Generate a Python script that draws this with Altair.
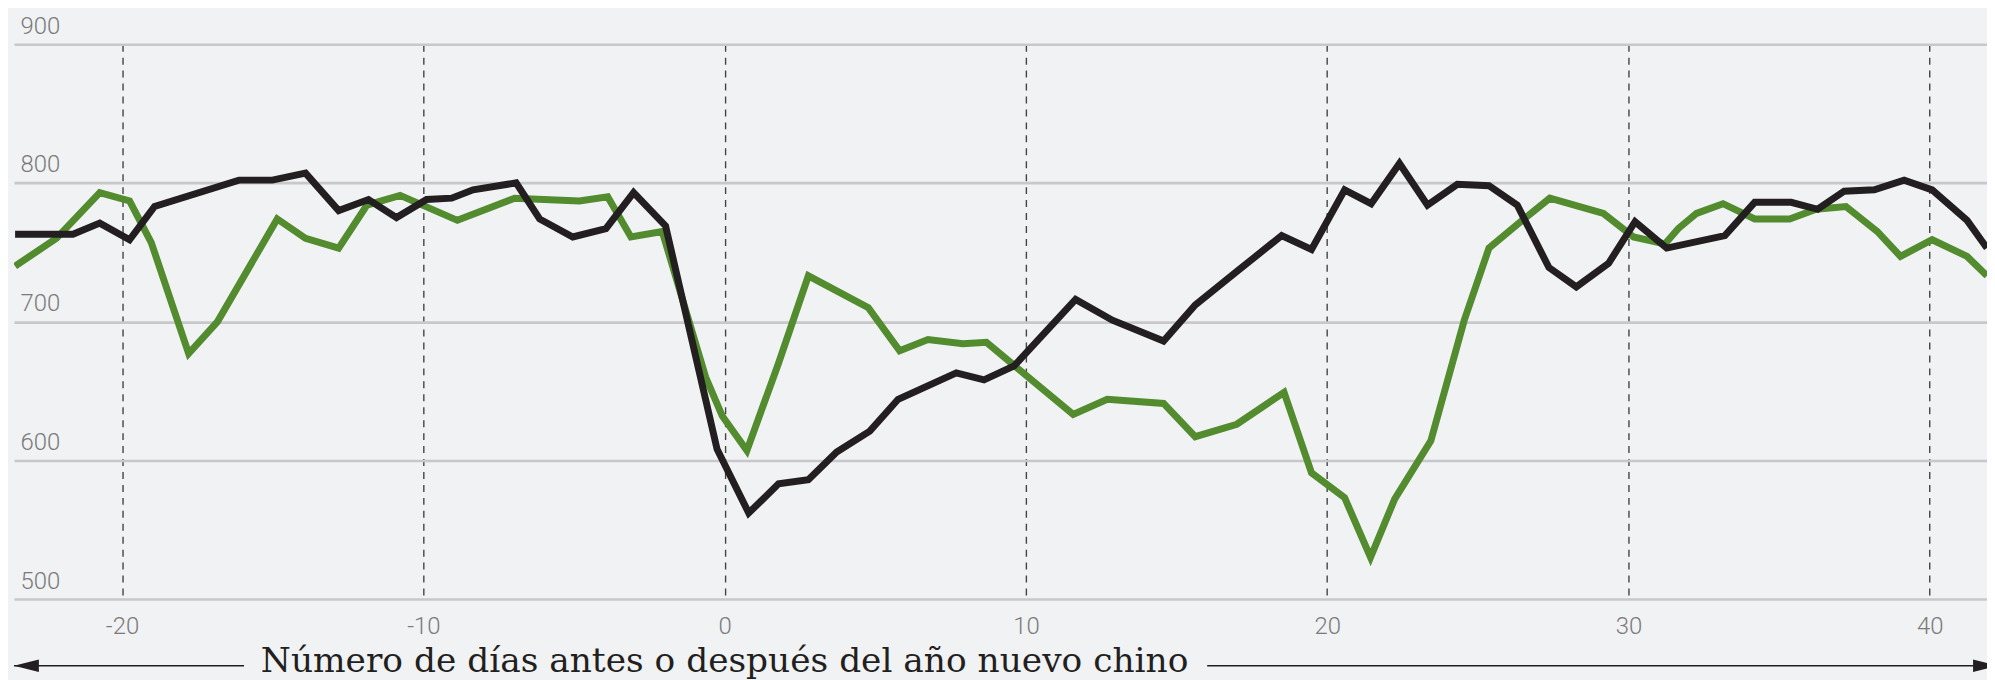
import altair as alt
import pandas as pd

# Días respecto al año nuevo chino (x) y valores (y)
black_x = [-23.55, -21.63, -20.74, -19.75, -18.92, -16.12, -15.01, -13.91, -12.81, -11.82,
           -10.89, -9.89, -9.06, -8.35, -6.92, -6.14, -5.04, -3.94, -3.02, -1.96,
           -0.25, 0.80, 1.79, 2.78, 3.72, 4.82, 5.76, 7.69, 8.61, 9.61,
           11.65, 12.87, 14.57, 15.62, 17.05, 18.49, 19.48, 20.58, 21.46, 22.40,
           23.33, 24.32, 25.37, 26.31, 27.36, 28.27, 29.34, 30.22, 31.27, 33.20,
           34.19, 35.40, 36.28, 37.16, 38.16, 39.15, 40.08, 41.24, 41.90]
black_y = [763, 763, 771, 759, 783, 802, 802, 807, 780, 788,
           775, 788, 789, 795, 800, 774, 761, 767, 793, 769,
           608, 562, 583, 586, 606, 621, 644, 663, 658, 668,
           716, 701, 686, 712, 737, 762, 752, 795, 785, 814,
           784, 799, 798, 784, 739, 725, 742, 772, 753, 762,
           786, 786, 781, 794, 795, 802, 795, 773, 753]

green_x = [-23.55, -22.18, -20.74, -19.75, -19.03, -17.79, -16.83, -14.85, -13.91, -12.81,
           -11.87, -10.77, -8.87, -6.97, -4.82, -3.88, -3.11, -2.07, -0.63, -0.08,
           0.74, 1.79, 2.78, 4.77, 5.81, 6.75, 7.91, 8.69, 11.57, 12.70,
           14.57, 15.62, 17.00, 18.57, 19.48, 20.58, 21.44, 22.24, 23.44, 24.55,
           25.37, 26.53, 27.39, 29.17, 30.17, 31.21, 31.65, 32.26, 33.14, 34.19,
           35.35, 36.23, 37.22, 38.26, 39.03, 40.08, 41.24, 41.90]
green_y = [740, 760, 793, 787, 757, 677, 700, 774, 760, 753,
           784, 791, 773, 789, 787, 790, 761, 765, 660, 632,
           607, 670, 733, 710, 679, 687, 684, 685, 633, 644,
           641, 617, 626, 649, 591, 573, 530, 572, 614, 701,
           753, 774, 789, 778, 761, 756, 767, 778, 785, 774,
           774, 781, 783, 765, 747, 759, 747, 733]

x_ticks = [-20, -10, 0, 10, 20, 30, 40]
y_ticks = [500, 600, 700, 800, 900]
x_title = "Número de días antes o después del año nuevo chino"

GREEN = "#538b2f"
BLACK = "#231f20"
BG = "#f1f2f4"

df_black = pd.DataFrame({"dia": black_x, "valor": black_y})
df_green = pd.DataFrame({"dia": green_x, "valor": green_y})

x_scale = alt.Scale(domain=[-23.587, 41.901], nice=False, zero=False)
y_scale = alt.Scale(domain=[500, 900], nice=False, zero=False)

x_axis = alt.Axis(values=x_ticks, grid=True, gridDash=[7, 6], gridColor="#444444",
                  gridWidth=1.4, domain=False, ticks=False, tickSize=0,
                  labelExpr="'' + datum.value",
                  labelFont="Roboto", labelFontWeight=300, labelFontSize=24,
                  labelColor="#7a7a7a", labelPadding=35, labelBaseline="alphabetic",
                  labelFlush=False, title=None)
y_axis = alt.Axis(values=y_ticks, grid=True, gridColor="#c8c8ca", gridWidth=2.6,
                  domain=False, ticks=False, tickSize=0, labelAlign="left",
                  labelBaseline="alphabetic", labelPadding=-6, labelOffset=-11,
                  labelFont="Roboto", labelFontWeight=300, labelFontSize=24,
                  labelColor="#7a7a7a", labelFlush=False, title=None)

green_line = alt.Chart(df_green).mark_line(color=GREEN, strokeWidth=7, clip=True).encode(
    x=alt.X("dia:Q", scale=x_scale, axis=x_axis),
    y=alt.Y("valor:Q", scale=y_scale, axis=y_axis),
)
black_line = alt.Chart(df_black).mark_line(color=BLACK, strokeWidth=7, clip=True).encode(
    x=alt.X("dia:Q", scale=x_scale),
    y=alt.Y("valor:Q", scale=y_scale),
)

title_text = alt.Chart(pd.DataFrame({"t": [x_title]})).mark_text(
    font="DejaVu Serif", fontSize=34.5, color=BLACK, align="center", baseline="alphabetic"
).encode(x=alt.datum(0), y=alt.value(630), text="t:N")

one = pd.DataFrame({"a": [1]})
left_rule = alt.Chart(one).mark_rule(color=BLACK, strokeWidth=1.5).encode(
    x=alt.value(0), x2=alt.value(231), y=alt.value(624))
right_rule = alt.Chart(one).mark_rule(color=BLACK, strokeWidth=1.5).encode(
    x=alt.value(1198), x2=alt.value(1981), y=alt.value(624))
left_head = alt.Chart(one).mark_point(shape="M-1,0L1,-0.5L1,0.5Z", filled=True, size=625,
                                      color=BLACK, opacity=1, strokeWidth=0).encode(
    x=alt.value(12.5), y=alt.value(624))
right_head = alt.Chart(one).mark_point(shape="M1,0L-1,-0.5L-1,0.5Z", filled=True, size=625,
                                       color=BLACK, opacity=1, strokeWidth=0).encode(
    x=alt.value(1979.5), y=alt.value(624))

chart = alt.layer(
    green_line, black_line, title_text, left_rule, right_rule, left_head, right_head
).properties(
    width=1981, height=557,
    autosize=alt.AutoSizeParams(type="none"),
    padding={"left": 6, "top": 35, "right": 0, "bottom": 80},
    background=BG,
).configure_view(stroke=None)

chart.save("out.html", embed_options={"renderer": "svg", "actions": False})
